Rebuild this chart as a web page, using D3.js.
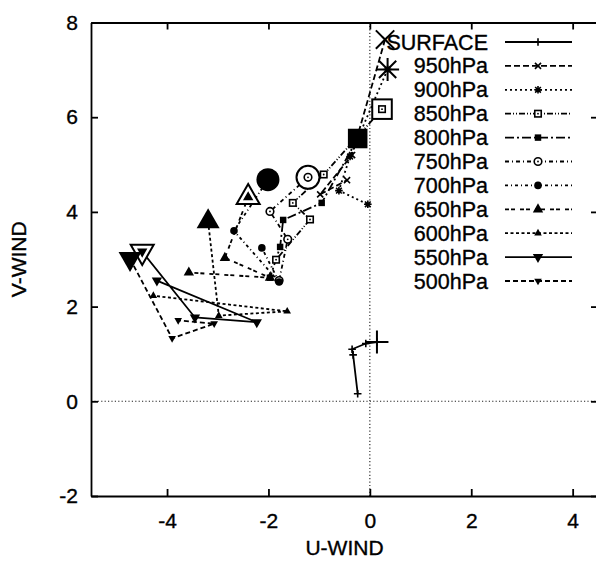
<!DOCTYPE html>
<html>
<head>
<meta charset="utf-8">
<script src="https://cdn.jsdelivr.net/npm/d3@7"></script>
<style>
  html, body { margin: 0; padding: 0; background: #fff; }
  svg { display: block; font-family: "Liberation Sans", Arial, Helvetica, sans-serif; }
  text { stroke: #000; stroke-width: 0.35px; fill: #000; }
</style>
</head>
<body>
<svg id="chart" width="596" height="562"></svg>
<script>
// Hodograph: wind (U, V) at each level; the first point of each level is the large marker.
const levels = ["SURFACE", "950hPa", "900hPa", "850hPa", "800hPa", "750hPa",
                "700hPa", "650hPa", "600hPa", "550hPa", "500hPa"];

const uSurface = [0.14, -0.08, -0.35, -0.33, -0.24];
const vSurface = [1.25, 1.22, 1.10, 0.98, 0.16];
const u950 = [0.30, -0.35, -0.98, -0.45];
const v950 = [7.64, 5.20, 4.37, 4.67];
const u900 = [0.35, -0.39, -0.61, -0.04];
const v900 = [7.01, 5.17, 4.45, 4.16];
const u850 = [0.24, -0.91, -1.52, -1.18, -1.85];
const v850 = [6.17, 4.79, 4.19, 3.84, 2.99];
const u800 = [-0.24, -0.95, -1.71, -1.77, -1.97];
const v800 = [5.55, 4.19, 3.83, 3.26, 2.61];
const u750 = [-1.22, -1.97, -1.62, -1.79];
const v750 = [4.73, 4.01, 3.42, 2.55];
const u700 = [-2.01, -2.68, -1.79, -2.13];
const v700 = [4.68, 3.60, 2.52, 3.24];
const u650 = [-2.40, -2.86, -1.97, -3.57];
const v650 = [4.31, 3.03, 2.61, 2.72];
const u600 = [-3.19, -2.98, -1.63, -4.27];
const v600 = [3.80, 1.81, 1.90, 2.23];
const u550 = [-4.49, -3.45, -2.23, -4.20];
const v550 = [3.16, 1.77, 1.67, 2.55];
const u500 = [-4.73, -3.90, -3.07, -3.78];
const v500 = [3.01, 1.33, 1.64, 1.71];

const xTicks = [-4, -2, 0, 2, 4];
const yTicks = [-2, 0, 2, 4, 6, 8];

const uSeries = [uSurface, u950, u900, u850, u800, u750, u700, u650, u600, u550, u500];
const vSeries = [vSurface, v950, v900, v850, v800, v750, v700, v650, v600, v550, v500];

// line styles and point shapes per level
const markerTypes = ["plus", "cross", "star", "square", "squareFilled", "circle",
                     "circleFilled", "triangle", "triangleFilled", "triangleDown", "triangleDownFilled"];
const dashes = [null, "6,3", "2,3", "6,2,1,2,1,2", "9,3,2,3", "4,3,1,3",
                "3,3,1,3", "4,2,4,5", "3,2.5", null, "5,3"];

const svg = d3.select("#chart");
const plotLeft = 91, plotRight = 598, plotTop = 22.5, plotBottom = 496;

const x = d3.scaleLinear().domain([-5.5, 4.5]).range([plotLeft, plotRight]);
const y = d3.scaleLinear().domain([-2, 8]).range([plotBottom, plotTop]);

const FONT = 21;

// zero lines
svg.append("line").attr("x1", x(0)).attr("x2", x(0)).attr("y1", plotTop).attr("y2", plotBottom)
  .attr("stroke", "#222").attr("stroke-width", 1.1).attr("stroke-dasharray", "1.2,2.2");
svg.append("line").attr("x1", plotLeft).attr("x2", plotRight).attr("y1", y(0)).attr("y2", y(0))
  .attr("stroke", "#222").attr("stroke-width", 1.1).attr("stroke-dasharray", "1.2,2.2");

// axes with inward ticks
const axB = svg.append("g").attr("transform", `translate(0,${plotBottom})`)
  .call(d3.axisBottom(x).tickValues(xTicks).tickSizeInner(-7).tickSizeOuter(0).tickPadding(17));
const axT = svg.append("g").attr("transform", `translate(0,${plotTop})`)
  .call(d3.axisTop(x).tickValues(xTicks).tickSizeInner(-7).tickSizeOuter(0).tickFormat(""));
const axL = svg.append("g").attr("transform", `translate(${plotLeft},0)`)
  .call(d3.axisLeft(y).tickValues(yTicks).tickSizeInner(-7).tickSizeOuter(0).tickPadding(13));
const axR = svg.append("g").attr("transform", `translate(${plotRight},0)`)
  .call(d3.axisRight(y).tickValues(yTicks).tickSizeInner(-7).tickSizeOuter(0).tickFormat(""));

[axB, axT, axL, axR].forEach(a => {
  a.select(".domain").attr("stroke", "#000").attr("stroke-width", 1.8);
  a.selectAll(".tick line").attr("stroke", "#000").attr("stroke-width", 1.8);
  a.selectAll(".tick text").attr("fill", "#000").attr("font-size", FONT)
    .attr("font-family", "Liberation Sans, Arial, sans-serif");
});
axB.selectAll(".tick text").text(d => d < 0 ? "-" + Math.abs(d) : d);
axL.selectAll(".tick text").text(d => d < 0 ? "-" + Math.abs(d) : d);

// axis titles
svg.append("text").attr("x", (plotLeft + plotRight) / 2).attr("y", 555)
  .attr("text-anchor", "middle").attr("font-size", FONT).text("U-WIND");
svg.append("text").attr("transform", `translate(26,${(plotTop + plotBottom) / 2}) rotate(-90)`)
  .attr("text-anchor", "middle").attr("font-size", FONT).text("V-WIND");

// point marker
function drawMarker(g, type, cx, cy, s, sw) {
  const k = g.append("g").attr("transform", `translate(${cx},${cy})`);
  const small = s < 6;
  const stroke = { stroke: "#000", "stroke-width": sw, fill: "none" };
  const apply = (sel, attrs) => { for (const a in attrs) sel.attr(a, attrs[a]); return sel; };
  const dot = () => { if (small) k.append("circle").attr("r", 0.9).attr("fill", "#000"); };
  const up = `M0,${-s * 1.15}L${s},${s * 0.6}L${-s},${s * 0.6}Z`;
  const down = `M0,${s * 1.15}L${s},${-s * 0.6}L${-s},${-s * 0.6}Z`;
  switch (type) {
    case "plus":
      apply(k.append("path").attr("d", `M${-s},0H${s}M0,${-s}V${s}`), stroke); break;
    case "cross": {
      const d = s * 0.8;
      apply(k.append("path").attr("d", `M${-d},${-d}L${d},${d}M${-d},${d}L${d},${-d}`), stroke); break;
    }
    case "star": {
      const d = s * 0.75;
      apply(k.append("path").attr("d", `M${-s},0H${s}M0,${-s}V${s}M${-d},${-d}L${d},${d}M${-d},${d}L${d},${-d}`), stroke); break;
    }
    case "square":
      apply(k.append("rect").attr("x", -s * 0.85).attr("y", -s * 0.85).attr("width", s * 1.7).attr("height", s * 1.7), stroke).attr("fill", "#fff");
      dot(); break;
    case "squareFilled":
      k.append("rect").attr("x", -s * 0.85).attr("y", -s * 0.85).attr("width", s * 1.7).attr("height", s * 1.7).attr("fill", "#000"); break;
    case "circle":
      apply(k.append("circle").attr("r", s), stroke).attr("fill", "#fff"); dot(); break;
    case "circleFilled":
      k.append("circle").attr("r", s).attr("fill", "#000"); break;
    case "triangle":
      apply(k.append("path").attr("d", up), stroke).attr("fill", small ? "#000" : "#fff"); break;
    case "triangleFilled":
      k.append("path").attr("d", up).attr("fill", "#000"); break;
    case "triangleDown":
      apply(k.append("path").attr("d", down), stroke).attr("fill", small ? "#000" : "#fff"); break;
    case "triangleDownFilled":
      k.append("path").attr("d", down).attr("fill", "#000"); break;
  }
}

const line = d3.line().x(d => x(d[0])).y(d => y(d[1]));
const plot = svg.append("g");

levels.forEach((name, i) => {
  const pts = uSeries[i].map((u, j) => [u, vSeries[i][j]]);
  const p = plot.append("path").datum(pts).attr("d", line)
    .attr("fill", "none").attr("stroke", "#000").attr("stroke-width", 1.8);
  if (dashes[i]) p.attr("stroke-dasharray", dashes[i]);
});

levels.forEach((name, i) => {
  const pts = uSeries[i].map((u, j) => [u, vSeries[i][j]]);
  // large marker on the first point
  drawMarker(plot, markerTypes[i], x(pts[0][0]), y(pts[0][1]), 11.5, 2);
});

levels.forEach((name, i) => {
  const pts = uSeries[i].map((u, j) => [u, vSeries[i][j]]);
  pts.forEach(p => drawMarker(plot, markerTypes[i], x(p[0]), y(p[1]), 3.8, 1.6));
});

// legend
const legend = svg.append("g");
levels.forEach((name, i) => {
  const ly = 42 + i * 23.9;
  legend.append("text").attr("x", 488).attr("y", ly).attr("dy", "0.35em")
    .attr("text-anchor", "end").attr("font-size", 21.5).text(name);
  const l = legend.append("line").attr("x1", 505).attr("x2", 572).attr("y1", ly).attr("y2", ly)
    .attr("stroke", "#000").attr("stroke-width", 1.8);
  if (dashes[i]) l.attr("stroke-dasharray", dashes[i]);
  drawMarker(legend, markerTypes[i], 538, ly, 3.8, 1.6);
});
</script>
</body>
</html>
